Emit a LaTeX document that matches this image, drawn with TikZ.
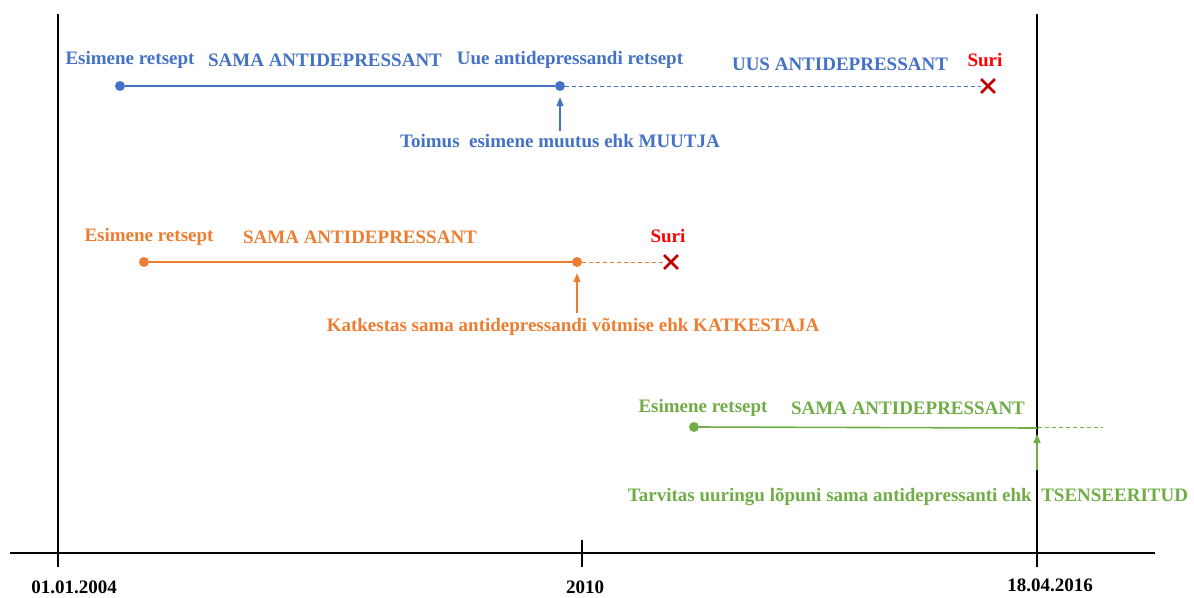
\documentclass[tikz,border=0pt]{standalone}
\usepackage{fontspec}
\setmainfont{Liberation Serif}
\usepackage{tikz}
\usetikzlibrary{shapes.misc,arrows.meta}
\definecolor{cblue}{RGB}{68,114,196}
\definecolor{corange}{RGB}{237,125,49}
\definecolor{cgreen}{RGB}{112,173,71}
\definecolor{cdead}{RGB}{192,0,0}
\begin{document}
\begin{tikzpicture}[x=1pt,y=-1pt]
  \tikzstyle{lbl}=[inner sep=0pt,font=\fontsize{19}{22}\selectfont\bfseries]
  \tikzstyle{ax}=[inner sep=0pt,font=\fontsize{19}{22}\selectfont\bfseries]
  \tikzstyle{dot}=[circle,fill,inner sep=0pt,minimum size=10pt]
  \tikzstyle{dead}=[cross out,draw=cdead,line width=2.8pt,inner sep=0pt,minimum size=11pt]
  \tikzstyle{tl}=[line width=1.6pt]
  \tikzstyle{dl}=[line width=0.9pt,dash pattern=on 4pt off 3pt]
  \tikzstyle{up}=[line width=1.4pt,-{Triangle[length=9pt,width=7pt]},shorten >=6pt]
  \useasboundingbox (0,0) rectangle (1194,597);
  % time axis
  \coordinate (axl) at (10,553);
  \coordinate (axr) at (1155,553);
  \draw[line width=2.4pt] (axl) -- (axr);
  \coordinate (v1t) at (58,14);
  \coordinate (v1b) at (58,567);
  \coordinate (v2t) at (1037,14);
  \coordinate (v2b) at (1037,567);
  \coordinate (tkt) at (582,540);
  \coordinate (tkb) at (582,567);
  \draw[line width=1.5pt] (v1t) -- (v1b);
  \draw[line width=1.5pt] (v2t) -- (v2b);
  \draw[line width=1.5pt] (tkt) -- (tkb);
  \node[ax] (d1) at (74,587) {01.01.2004};
  \node[ax] (d2) at (585,587) {2010};
  \node[ax] (d3) at (1050,585) {18.04.2016};
  % muutja
  \begin{scope}[color=cblue]
    \node[dot] (b1) at (120,86) {};
    \node[dot] (b2) at (560,86) {};
    \node[dead] (bx) at (988,86) {};
    \draw[tl] (b1) -- (b2);
    \draw[dl] (b2) -- (bx);
    \node[lbl] (bl1) at (130,60) {Esimene retsept};
    \node[lbl] (bl2) at (325,60) {SAMA ANTIDEPRESSANT};
    \node[lbl] (bl3) at (570,60) {Uue antidepressandi retsept};
    \node[lbl] (bl4) at (840,64) {UUS ANTIDEPRESSANT};
    \node[lbl,text=red] (bs) at (985,60) {Suri};
    \node[lbl] (bt) at (560,141) {Toimus\ \ esimene muutus ehk MUUTJA};
    \coordinate (ba) at (560,131);
    \draw[up] (ba) -- (b2);
  \end{scope}
  % katkestaja
  \begin{scope}[color=corange]
    \node[dot] (o1) at (144,262) {};
    \node[dot] (o2) at (577,262) {};
    \node[dead] (ox) at (671,262) {};
    \draw[tl] (o1) -- (o2);
    \draw[dl] (o2) -- (ox);
    \node[lbl] (ol1) at (149,237) {Esimene retsept};
    \node[lbl] (ol2) at (360,237) {SAMA ANTIDEPRESSANT};
    \node[lbl,text=red] (os) at (668,236) {Suri};
    \node[lbl] (ot) at (573,327) {Katkestas sama antidepressandi võtmise ehk KATKESTAJA};
    \coordinate (oa) at (577,313);
    \draw[up] (oa) -- (o2);
  \end{scope}
  % tsenseeritud
  \begin{scope}[color=cgreen]
    \node[dot] (g1) at (694,427) {};
    \coordinate (g2) at (1037,428);
    \coordinate (gd1) at (1010,427);
    \coordinate (gd2) at (1103,427);
    \draw[tl] (g1) -- (g2);
    \draw[dl] (gd1) -- (gd2);
    \node[lbl] (gl1) at (703,408) {Esimene retsept};
    \node[lbl] (gl2) at (908,408) {SAMA ANTIDEPRESSANT};
    \node[lbl] (gt) at (908,497) {Tarvitas uuringu lõpuni sama antidepressanti ehk\ \ TSENSEERITUD};
    \coordinate (ga) at (1037,470);
    \draw[up] (ga) -- (g2);
  \end{scope}
\end{tikzpicture}
\end{document}
